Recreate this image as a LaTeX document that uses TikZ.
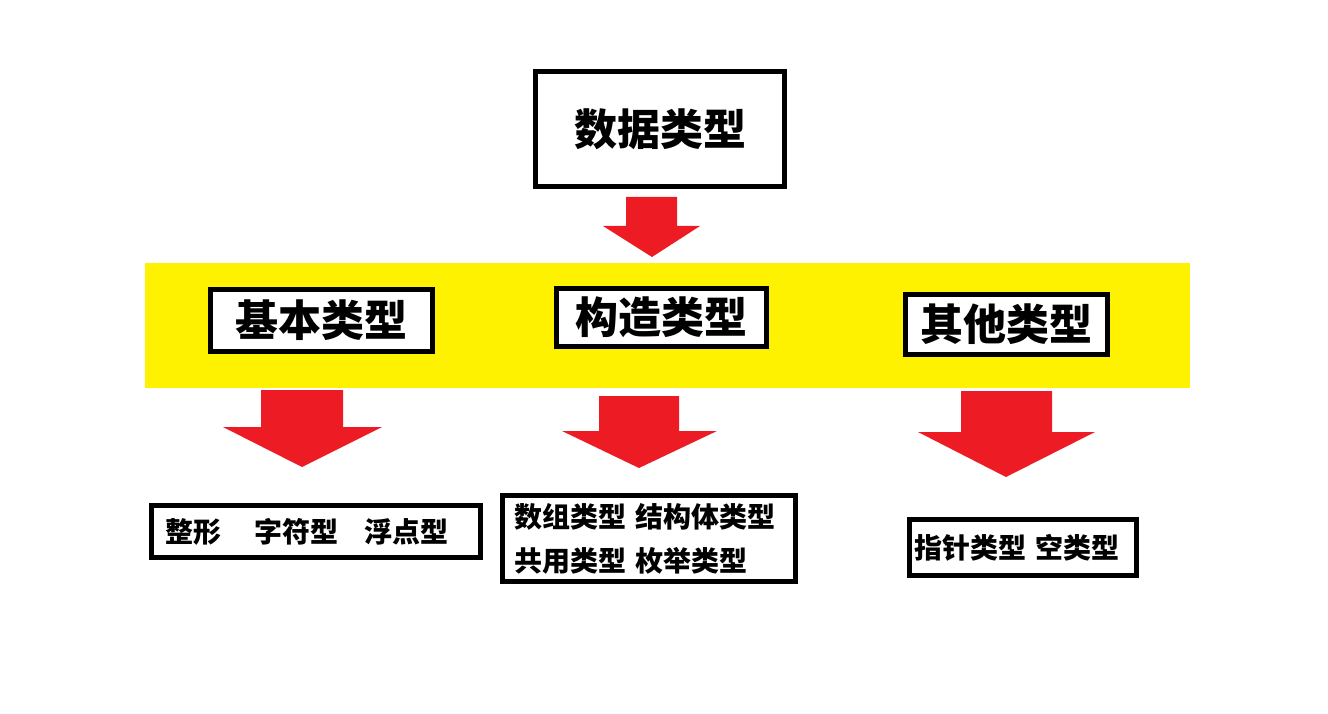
\documentclass[tikz,border=0pt]{standalone}
\usepackage{fontspec}
\usepackage{tikz}
\usetikzlibrary{positioning}
\newfontfamily\cjk{Noto Sans CJK SC}
\definecolor{paintred}{RGB}{237,28,36}
\definecolor{paintyellow}{RGB}{255,242,0}

\begin{document}
\begin{tikzpicture}[
    x=1pt, y=-1pt,
    band/.style={fill=paintyellow, inner sep=0pt},
    bigbox/.style={draw, line width=5pt, fill=white, inner sep=0pt, font=\cjk\bfseries\fontsize{43}{50}\selectfont},
    listbox/.style={draw, line width=5pt, fill=white, align=left, inner ysep=0pt, font=\cjk\bfseries\fontsize{28}{44}\selectfont},
    redarrow/.style={fill=paintred}
]
    \useasboundingbox (0,0) rectangle (1328,714);

    \node[band, minimum width=1045pt, minimum height=125pt] (level) at (667.5,325.5) {};

    \node[bigbox, minimum width=249pt, minimum height=115pt] (data) at (660,129) {数据类型};
    \node[bigbox, minimum width=222pt, minimum height=62pt] (basic) at (321.5,320.5) {基本类型};
    \node[bigbox, minimum width=210pt, minimum height=58pt] (struct) at (661.5,317.5) {构造类型};
    \node[bigbox, minimum width=202pt, minimum height=60pt] (other) at (1006.5,324.5) {其他类型};

    \node[listbox, inner xsep=14pt, text width=301pt, minimum height=52pt] (basiclist) at (316,531.5)
        {整形\hspace{33pt}字符型\hspace{26pt}浮点型};
    \node[listbox, inner xsep=12pt, text width=269pt, minimum height=86pt] (structlist) at (649,538.5)
        {数组类型 结构体类型\\共用类型 枚举类型};
    \node[listbox, inner xsep=5pt, text width=217pt, minimum height=56pt] (otherlist) at (1023,547.5)
        {指针类型 空类型};

    \fill[redarrow] (626,197) -- (677,197) -- (677,226) -- (700,226) -- (652,257) -- (603,226) -- (626,226) -- cycle;
    \fill[redarrow] (261,390) -- (343,390) -- (343,427) -- (382,427) -- (302,467) -- (223,427) -- (261,427) -- cycle;
    \fill[redarrow] (599,396) -- (679,396) -- (679,431) -- (717,431) -- (639,468) -- (562,431) -- (599,431) -- cycle;
    \fill[redarrow] (961,391) -- (1052,391) -- (1052,432) -- (1095,432) -- (1006,477) -- (918,432) -- (961,432) -- cycle;
\end{tikzpicture}
\end{document}
